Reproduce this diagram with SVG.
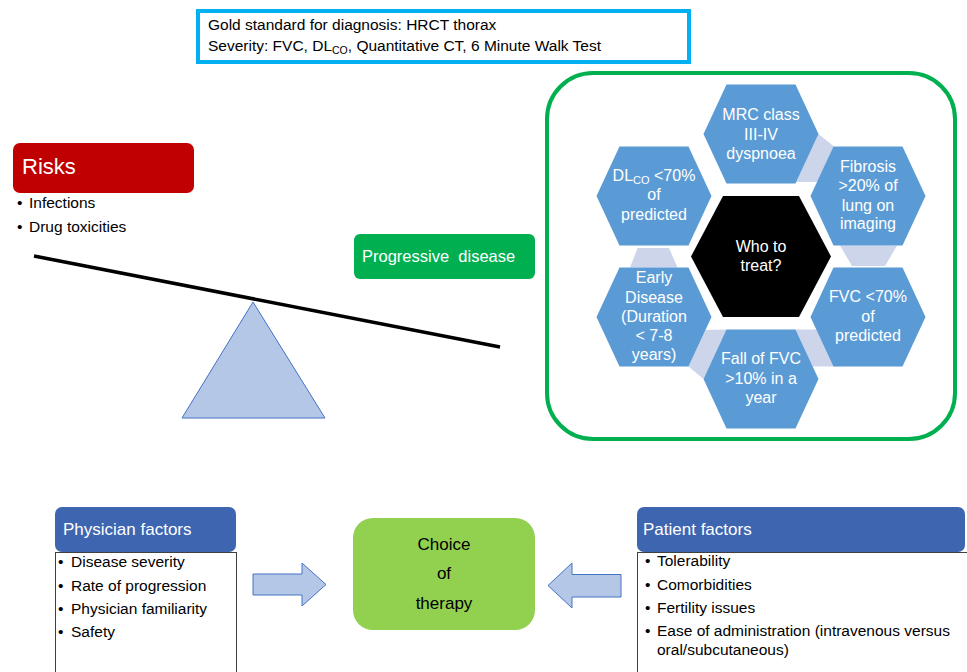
<svg xmlns="http://www.w3.org/2000/svg" width="967" height="672" viewBox="0 0 967 672">
<style>
text{font-family:"Liberation Sans",Arial,sans-serif;}
.hex{fill:#5B9BD5;}
.ht{fill:#fff;font-size:16px;text-anchor:middle;}
.conn{fill:#CDD5EA;}
.blk{fill:#B4C7E7;stroke:#4472C4;stroke-width:1;}
.bt{fill:#000;font-size:15.5px;}
.wt{fill:#fff;}
.hdr{fill:#3E65B0;}
.box{fill:#fff;stroke:#404040;stroke-width:1;}
</style>
<rect width="967" height="672" fill="#fff"/>

<g id="diagnosis">
<rect x="198" y="11" width="491" height="51" fill="#fff" stroke="#00B0F0" stroke-width="4"/>
<text class="bt" x="208" y="30">Gold standard for diagnosis: HRCT thorax</text>
<text class="bt" x="208" y="51">Severity: FVC, DL<tspan font-size="10.5px" dy="3">CO</tspan><tspan dy="-3">, Quantitative CT, 6 Minute Walk Test</tspan></text>
</g>

<g id="risks">
<rect x="13" y="143" width="181" height="50" rx="7" fill="#C00000"/>
<text class="wt" x="22" y="174" font-size="22px">Risks</text>
<text class="bt" x="17" y="208">•<tspan x="29">Infections</tspan></text>
<text class="bt" x="17" y="232">•<tspan x="29">Drug toxicities</tspan></text>
</g>

<g id="seesaw">
<line x1="34" y1="256" x2="500" y2="347" stroke="#000" stroke-width="3.5"/>
<polygon points="253,302 182,418 325,418" fill="#B4C7E7" stroke="#4472C4" stroke-width="1"/>
</g>

<g id="progressive">
<rect x="354" y="234" width="181" height="45" rx="6" fill="#00B050"/>
<text class="wt" x="362" y="262" font-size="16.5px">Progressive&#160; disease</text>
</g>

<g id="who-frame">
<rect x="547" y="73" width="408" height="366" rx="46" fill="none" stroke="#00B050" stroke-width="4"/>
</g>

<g id="connectors">
<polygon class="conn" points="818.5,134 834,146.5 818,182 796,182"/>
<polygon class="conn" points="840,245.5 897,245.5 885,266 852,266"/>
<polygon class="conn" points="795.5,329.5 816.5,329.5 838,366.5 812.5,366.5"/>
<polygon class="conn" points="705.5,330 727,329.5 703.5,379 688.5,366.5"/>
<polygon class="conn" points="637.5,248 669,248 677.5,267.5 630,267.5"/>
<polygon class="blk" points="253,574 302,574 302,563 326,584.5 302,606 302,595 253,595"/>
<polygon class="blk" points="621,574.5 572,574.5 572,563 548,585.5 572,608 572,597 621,597"/>
</g>

<g id="hex-mrc">
<polygon class="hex" points="703.5,134 726.5,84.5 795.5,84.5 818.5,134 795.5,183.5 726.5,183.5"/>
<text class="ht" x="761" y="120">MRC class</text>
<text class="ht" x="761" y="139.5">III-IV</text>
<text class="ht" x="761" y="159">dyspnoea</text>
</g>
<g id="hex-fibrosis">
<polygon class="hex" points="810.5,196 833.5,146.5 902.5,146.5 925.5,196 902.5,245.5 833.5,245.5"/>
<text class="ht" x="868" y="172">Fibrosis</text>
<text class="ht" x="868" y="191">&gt;20% of</text>
<text class="ht" x="868" y="210.5">lung on</text>
<text class="ht" x="868" y="229">imaging</text>
</g>
<g id="hex-fvc">
<polygon class="hex" points="810.5,317 833.5,267.5 902.5,267.5 925.5,317 902.5,366.5 833.5,366.5"/>
<text class="ht" x="868" y="302">FVC &lt;70%</text>
<text class="ht" x="868" y="321.5">of</text>
<text class="ht" x="868" y="341">predicted</text>
</g>
<g id="hex-fall">
<polygon class="hex" points="703.5,379 726.5,329.5 795.5,329.5 818.5,379 795.5,428.5 726.5,428.5"/>
<text class="ht" x="761" y="364">Fall of FVC</text>
<text class="ht" x="761" y="383.5">&gt;10% in a</text>
<text class="ht" x="761" y="403">year</text>
</g>
<g id="hex-early">
<polygon class="hex" points="596.5,317 619.5,267.5 688.5,267.5 711.5,317 688.5,366.5 619.5,366.5"/>
<text class="ht" x="654" y="283">Early</text>
<text class="ht" x="654" y="302.5">Disease</text>
<text class="ht" x="654" y="321.5">(Duration</text>
<text class="ht" x="654" y="340.5">&lt; 7-8</text>
<text class="ht" x="654" y="360">years)</text>
</g>
<g id="hex-dlco">
<polygon class="hex" points="596.5,196 619.5,146.5 688.5,146.5 711.5,196 688.5,245.5 619.5,245.5"/>
<text class="ht" x="654" y="181">DL<tspan font-size="11px" dy="3">CO</tspan><tspan dy="-3"> &lt;70%</tspan></text>
<text class="ht" x="654" y="200">of</text>
<text class="ht" x="654" y="219.5">predicted</text>
</g>
<g id="hex-center">
<polygon points="691,256.5 723,196 799,196 831,256.5 799,317 723,317" fill="#000"/>
<text class="ht" x="761" y="252">Who to</text>
<text class="ht" x="761" y="271">treat?</text>
</g>

<g id="physician">
<rect class="box" x="55.5" y="552.5" width="181" height="130"/>
<rect class="hdr" x="55" y="507" width="181" height="45" rx="7"/>
<text class="wt" x="63" y="535" font-size="17px">Physician factors</text>
<text class="bt" x="58" y="567">•<tspan x="71">Disease severity</tspan></text>
<text class="bt" x="58" y="591">•<tspan x="71">Rate of progression</tspan></text>
<text class="bt" x="58" y="614">•<tspan x="71">Physician familiarity</tspan></text>
<text class="bt" x="58" y="637">•<tspan x="71">Safety</tspan></text>
</g>

<g id="choice">
<rect x="353" y="518" width="182" height="112" rx="20" fill="#92D050"/>
<text x="444" y="550" font-size="17px" text-anchor="middle" fill="#000">Choice</text>
<text x="444" y="579" font-size="17px" text-anchor="middle" fill="#000">of</text>
<text x="444" y="609" font-size="17px" text-anchor="middle" fill="#000">therapy</text>
</g>

<g id="patient">
<rect class="box" x="637.5" y="552.5" width="340" height="130"/>
<rect class="hdr" x="637" y="507" width="328" height="45" rx="7"/>
<text class="wt" x="643" y="535" font-size="17px">Patient factors</text>
<text class="bt" x="645" y="566">•<tspan x="657">Tolerability</tspan></text>
<text class="bt" x="645" y="590">•<tspan x="657">Comorbidities</tspan></text>
<text class="bt" x="645" y="613">•<tspan x="657">Fertility issues</tspan></text>
<text class="bt" x="645" y="636">•<tspan x="657">Ease of administration (intravenous versus</tspan></text>
<text class="bt" x="657" y="655">oral/subcutaneous)</text>
</g>
</svg>
